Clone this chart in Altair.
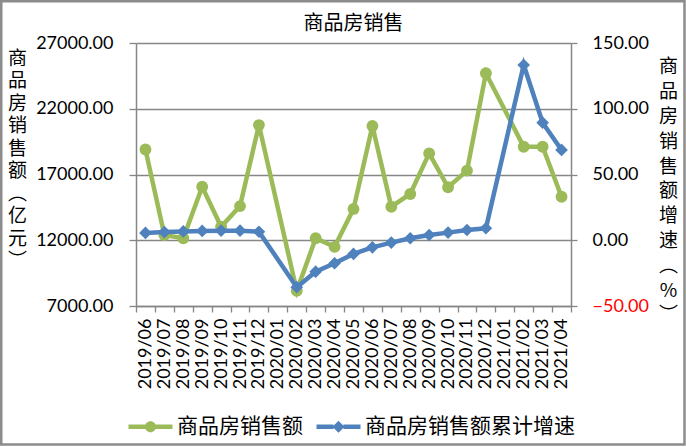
import altair as alt
import pandas as pd

cats = ["2019/06", "2019/07", "2019/08", "2019/09", "2019/10", "2019/11", "2019/12",
        "2020/01", "2020/02", "2020/03", "2020/04", "2020/05", "2020/06", "2020/07",
        "2020/08", "2020/09", "2020/10", "2020/11", "2020/12",
        "2021/01", "2021/02", "2021/03", "2021/04"]
sales = [18900, 12400, 12150, 16070, 13030, 14600, 20760,
         None, 8150, 12150, 11500, 14380, 20690, 14550,
         15520, 18610, 16030, 17290, 24700,
         None, 19110, 19110, 15310]
growth = [5.6, 6.2, 6.7, 7.1, 7.3, 7.3, 6.5,
          None, -35.7, -23.9, -17.5, -10.4, -5.4, -1.8,
          1.5, 4.0, 5.8, 7.8, 9.1,
          None, 133.3, 89.4, 68.7]
series_names = ["商品房销售额", "商品房销售额累计增速"]
left_ticks = [7000, 12000, 17000, 22000, 27000]
right_ticks = [-50, 0, 50, 100, 150]
left_title = ["商", "品", "房", "销", "售", "额", "︵", "亿", "元", "︶"]
right_title = ["商", "品", "房", "销", "售", "额", "增", "速", "︵", "%", "︶"]

GREEN = "#9BBB59"
BLUE = "#4F81BD"
GRAY = "#868686"
NUM = "Lato"
CJK = "Noto Sans CJK SC"

df = pd.DataFrame({"cat": cats, "sales": sales, "growth": growth})

x = alt.X("cat:N", sort=None,
          scale=alt.Scale(domain=cats, paddingInner=0, paddingOuter=0),
          axis=alt.Axis(title=None, labelAngle=-90, labelFont=NUM, labelFontSize=18,
                        labelColor="#000000", labelPadding=6, tickSize=6, tickBand="extent",
                        tickColor=GRAY, tickWidth=1.3, domainColor=GRAY, domainWidth=1.5,
                        labelOverlap=False))

y_left = alt.Y("sales:Q",
               scale=alt.Scale(domain=[7000, 27000], nice=False, zero=False),
               axis=alt.Axis(orient="left", values=left_ticks, format=".2f", grid=True,
                             gridColor=GRAY, gridWidth=1.5, tickSize=7, tickColor=GRAY,
                             tickWidth=1.3, domainColor=GRAY, domainWidth=1.5,
                             labelPadding=16, labelFont=NUM, labelFontSize=18,
                             labelColor="#000000",
                             title=left_title, titleAngle=0, titleAlign="center",
                             titleBaseline="alphabetic", titleX=-119, titleY=21.2,
                             titleLineHeight=22.5, titleFont=CJK, titleFontSize=19,
                             titleFontWeight="normal", titleColor="#000000"))

y_right = alt.Y("growth:Q",
                scale=alt.Scale(domain=[-50, 150], nice=False, zero=False),
                axis=alt.Axis(orient="right", values=right_ticks, format=".2f", grid=False,
                              tickSize=6, tickColor=GRAY, tickWidth=1.3, domainColor=GRAY,
                              domainWidth=1.5, labelPadding=15, labelFont=NUM,
                              labelFontSize=18,
                              labelColor=alt.ExprRef(expr="datum.value < 0 ? '#FF0000' : '#000000'"),
                              title=right_title, titleAngle=0, titleAlign="center",
                              titleBaseline="alphabetic", titleX=97, titleY=29.9,
                              titleLineHeight=24.8, titleFont=CJK, titleFontSize=19,
                              titleFontWeight="normal", titleColor="#000000"))

green = alt.Chart(df).transform_filter("isValid(datum.sales)").mark_line(
    color=GREEN, strokeWidth=4.5,
    point=alt.OverlayMarkDef(filled=True, size=140, color=GREEN, opacity=1)
).encode(x=x, y=y_left)

blue = alt.Chart(df).transform_filter("isValid(datum.growth)").mark_line(
    color=BLUE, strokeWidth=4.5,
    point=alt.OverlayMarkDef(filled=True, size=160, shape="diamond", color=BLUE, opacity=1)
).encode(x=x, y=y_right)

p_circle = ("M-2.2,-0.22 L-0.52,-0.22 L-0.52,0.22 L-2.2,0.22 Z "
            "M0.52,-0.22 L2.2,-0.22 L2.2,0.22 L0.52,0.22 Z "
            "M-0.55,0 A0.55,0.55 0 1,1 0.55,0 A0.55,0.55 0 1,1 -0.55,0 Z")
p_diamond = ("M-2.2,-0.22 L-0.5,-0.22 L-0.5,0.22 L-2.2,0.22 Z "
             "M0.5,-0.22 L2.2,-0.22 L2.2,0.22 L0.5,0.22 Z "
             "M0,-0.6 L0.6,0 L0,0.6 L-0.6,0 Z")

legend_def = alt.Legend(title=None, orient="none", legendX=4, legendY=373,
                        direction="horizontal", labelFont=CJK, labelFontSize=21,
                        labelColor="#000000", symbolSize=400, labelOffset=16,
                        columnPadding=13, symbolStrokeWidth=0, labelLimit=400,
                        symbolOpacity=1)

leg = alt.Chart(pd.DataFrame({"series": series_names})).mark_point(
    filled=True, size=400
).encode(
    color=alt.Color("series:N", scale=alt.Scale(domain=series_names, range=[GREEN, BLUE]),
                    legend=legend_def),
    shape=alt.Shape("series:N", scale=alt.Scale(domain=series_names, range=[p_circle, p_diamond]),
                    legend=legend_def),
    opacity=alt.value(0),
)

frame = alt.Chart(pd.DataFrame({"a": [1]})).mark_rect(
    fill="transparent", stroke="#8C8C8C", strokeWidth=2.5
).encode(x=alt.value(-134.75), x2=alt.value(548.5), y=alt.value(-41.75), y2=alt.value(401.5))

chart = alt.layer(frame, green, blue, leg).resolve_scale(y="independent").properties(
    width=435, height=263,
    autosize=alt.AutoSizeParams(type="none"),
    padding={"left": 136, "top": 43, "right": 115, "bottom": 141},
    title=alt.Title("商品房销售", font=CJK, fontSize=20, fontWeight="normal", color="#000000",
                    anchor="middle", frame="group", baseline="alphabetic", offset=-50),
    background="white",
).configure_view(strokeWidth=0)

chart.save("out.html", embed_options={"renderer": "svg", "actions": False})
